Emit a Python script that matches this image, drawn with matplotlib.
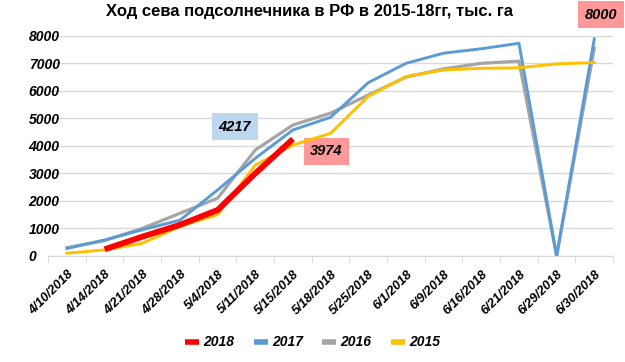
import numpy as np
import matplotlib.pyplot as plt
import matplotlib.transforms as mtransforms

plt.rcParams["font.family"] = ["Liberation Sans", "DejaVu Sans"]

dates = ["4/10/2018", "4/14/2018", "4/21/2018", "4/28/2018", "5/4/2018",
         "5/11/2018", "5/15/2018", "5/18/2018", "5/25/2018", "6/1/2018",
         "6/9/2018", "6/16/2018", "6/21/2018", "6/29/2018", "6/30/2018"]

y2018 = [np.nan, 240, 700, 1130, 1670, 3000, 4250] + [np.nan] * 8
y2017 = [270, 580, 950, 1300, 2400, 3550, 4580, 5040, 6300, 7000, 7370, 7530, 7730, 0, 7890]
y2016 = [300, 560, 1000, 1550, 2100, 3850, 4760, 5190, 5850, 6500, 6800, 7000, 7080, 0, 7550]
y2015 = [100, 220, 460, 1070, 1500, 3300, 4030, 4460, 5800, 6520, 6760, 6820, 6840, 6980, 7030]

fig = plt.figure(figsize=(6.25, 3.62), dpi=100)
ax = fig.add_axes([0.077, 0.293, 0.904, 0.608])

x = np.arange(len(dates))
ax.plot(x, y2018, color="#FF0000", lw=4.2, label="2018", solid_capstyle="butt", zorder=5)
ax.plot(x, y2017, color="#5B9BD5", lw=2.1, label="2017", zorder=4)
ax.plot(x, y2016, color="#A5A5A5", lw=2.3, label="2016", zorder=3)
ax.plot(x, y2015, color="#FFC000", lw=2.1, label="2015", zorder=4)

ax.set_xlim(-0.5, len(dates) - 0.5)
ax.set_ylim(0, 8000)
ax.set_yticks(range(0, 8001, 1000))
ax.grid(axis="y", color="#D9D9D9", lw=1)
ax.set_axisbelow(True)
for s in ["top", "right", "left"]:
    ax.spines[s].set_visible(False)
ax.spines["bottom"].set_color("#D9D9D9")

ax.set_xticks(x)
ax.set_xticklabels(dates, rotation=45, ha="right", rotation_mode="anchor",
                   fontsize=9.3, fontweight="bold", fontstyle="italic")
shift = mtransforms.ScaledTranslation(5 / 100, 0, fig.dpi_scale_trans)
for lab in ax.get_xticklabels():
    lab.set_transform(lab.get_transform() + shift)
ax.set_xticks(np.arange(-0.5, len(dates)), minor=True)
ax.tick_params(axis="x", which="major", length=0, pad=9)
ax.tick_params(axis="x", which="minor", length=5, color="#D9D9D9")
ax.tick_params(axis="y", length=0, pad=14)
for lab in ax.get_yticklabels():
    lab.set_fontsize(10)
    lab.set_fontweight("bold")
    lab.set_fontstyle("italic")
    lab.set_horizontalalignment("left")

boxfont = dict(fontsize=10.5, fontweight="bold", fontstyle="italic")
ax.text(4.46, 4690, "4217", ha="center", va="center",
        bbox=dict(boxstyle="square,pad=0.45", fc="#BDD7EE", ec="none"), **boxfont)
ax.text(6.89, 3800, "3974", ha="center", va="center",
        bbox=dict(boxstyle="square,pad=0.45", fc="#FF9999", ec="none"), **boxfont)
ax.text(14.18, 8760, "8000", ha="center", va="center", clip_on=False,
        bbox=dict(boxstyle="square,pad=0.45", fc="#FF9999", ec="none"), **boxfont)

fig.suptitle("Ход сева подсолнечника в РФ в 2015-18гг, тыс. га", x=0.496, y=0.99,
             fontsize=12, fontweight="bold")

leg = fig.legend(loc="lower center", bbox_to_anchor=(0.5, 0.0), ncol=4, frameon=False,
                 handlelength=1.0, handletextpad=0.3, columnspacing=1.4,
                 prop=dict(size=10, weight="bold", style="italic"))
for h in leg.get_lines():
    h.set_linewidth(4)
    h.set_solid_capstyle("butt")

fig.savefig("out.png", dpi=100)
